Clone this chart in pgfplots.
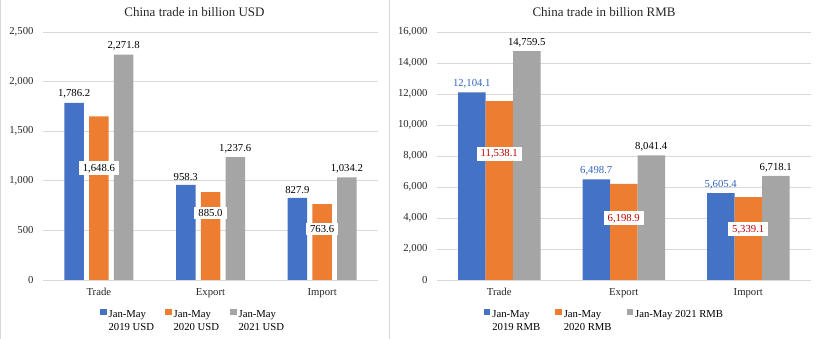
\documentclass[border=0pt]{standalone}
\usepackage{pgfplots}
\pgfplotsset{compat=1.18}
\usepackage{fontspec}
\setmainfont{Liberation Serif}
\definecolor{cblue}{RGB}{68,114,196}
\definecolor{corange}{RGB}{237,125,49}
\definecolor{cgray}{RGB}{165,165,165}
\definecolor{cred}{RGB}{192,0,0}
\definecolor{cbluetxt}{RGB}{47,100,190}
\definecolor{cgrid}{RGB}{217,217,217}
\newcommand{\lbl}{\fontsize{10.7}{12.8}\selectfont}
\pgfplotsset{
 mybase/.style={
  scale only axis, height=248pt, ymin=0, xmin=-0.5, xmax=2.5,
  axis line style={draw=none}, major tick length=0pt,
  ymajorgrids, grid style={cgrid, line width=0.8pt},
  xtick={0,1,2}, xticklabels={Trade,Export,Import},
  tick label style={font=\lbl, text=black!85},
  xticklabel style={yshift=-5pt},
  yticklabel style={/pgf/number format/1000 sep={,}, /pgf/number format/fixed, xshift=-6pt},
  /pgf/number format/assume math mode=true,
  scaled y ticks=false, clip=false,
  legend style={draw=none, fill=none, font=\lbl, legend columns=3, anchor=north west,
     inner sep=0pt, cells={anchor=west}},
 },
 mybar/.style={ybar, draw=none, fill=#1,
   legend image code/.code={\fill[#1] (0pt,-0.1em) rectangle (6.5pt,0.5em);}},
 toplbl/.style 2 args={nodes near coords, point meta=explicit symbolic,
   every node near coord/.append style={font=\lbl, anchor=south, inner sep=1pt, yshift=3pt, xshift=#2, text=#1}},
 boxlbl/.style={draw=none, only marks, mark=*, mark size=0pt, mark options={draw=none, fill=none}, forget plot,
   nodes near coords, point meta=explicit symbolic, nodes near coords align=center,
   every node near coord/.append style={font=\lbl, anchor=center, fill=white, inner xsep=4pt, inner ysep=2.5pt, text=#1}},
}
\begin{document}
\begin{tikzpicture}
\useasboundingbox (0pt,0pt) rectangle (819pt,339pt);
\draw[cgrid, line width=0.8pt] (389pt,0pt) -- (389pt,339pt);
\draw[cgrid, line width=0.8pt] (0.6pt,0pt) -- (0.6pt,339pt);
\node[font=\fontsize{13}{15}\selectfont, text=black!85] at (194.5pt,327pt) {China trade in billion USD};
\node[font=\fontsize{13}{15}\selectfont, text=black!85] at (604pt,327pt) {China trade in billion RMB};

\begin{axis}[mybase, at={(43pt,59pt)}, anchor=south west, width=335pt,
  ymax=2500, ytick={0,500,1000,1500,2000,2500},
  legend style={at={(axis description cs:0.17,-0.108)}, /tikz/every even column/.append style={column sep=9pt}}]
\addplot[mybar=cblue, bar width=19.5pt, bar shift=-24.75pt, toplbl={black}{-24.75pt}]
  coordinates {(0,1786.2) [1,786.2] (1,958.3) [958.3] (2,827.9) [827.9]};
\addlegendentry{\begin{tabular}[t]{@{}l@{}}Jan-May\\2019 USD\end{tabular}}
\addplot[mybar=corange, bar width=19.5pt, bar shift=0pt]
  coordinates {(0,1648.6) (1,885.0) (2,763.6)};
\addlegendentry{\begin{tabular}[t]{@{}l@{}}Jan-May\\2020 USD\end{tabular}}
\addplot[mybar=cgray, bar width=19.5pt, bar shift=24.75pt, toplbl={black}{24.75pt}]
  coordinates {(0,2271.8) [2,271.8] (1,1237.6) [1,237.6] (2,1034.2) [1,034.2]};
\addlegendentry{\begin{tabular}[t]{@{}l@{}}Jan-May\\2021 USD\end{tabular}}
\addplot[boxlbl=black]
  coordinates {(0,1126) [1,648.6] (1,672) [885.0] (2,511) [763.6]};
\end{axis}

\begin{axis}[mybase, at={(437pt,59pt)}, anchor=south west, width=373.5pt,
  ymax=16000, ytick={0,2000,4000,6000,8000,10000,12000,14000,16000},
  legend style={at={(axis description cs:0.125,-0.108)}, /tikz/every even column/.append style={column sep=13pt}}]
\addplot[mybar=cblue, bar width=27.5pt, bar shift=-27.5pt, toplbl={cbluetxt}{-27.5pt}]
  coordinates {(0,12104.1) [12,104.1] (1,6498.7) [6,498.7] (2,5605.4) [5,605.4]};
\addlegendentry{\begin{tabular}[t]{@{}l@{}}Jan-May\\2019 RMB\end{tabular}}
\addplot[mybar=corange, bar width=27.5pt, bar shift=0pt]
  coordinates {(0,11538.1) (1,6198.9) (2,5339.1)};
\addlegendentry{\begin{tabular}[t]{@{}l@{}}Jan-May\\2020 RMB\end{tabular}}
\addplot[mybar=cgray, bar width=27.5pt, bar shift=27.5pt, toplbl={black}{27.5pt}]
  coordinates {(0,14759.5) [14,759.5] (1,8041.4) [8,041.4] (2,6718.1) [6,718.1]};
\addlegendentry{Jan-May 2021 RMB}
\addplot[boxlbl=cred]
  coordinates {(0,8129) [11,538.1] (1,3980) [6,198.9] (2,3270) [5,339.1]};
\end{axis}
\end{tikzpicture}
\end{document}
